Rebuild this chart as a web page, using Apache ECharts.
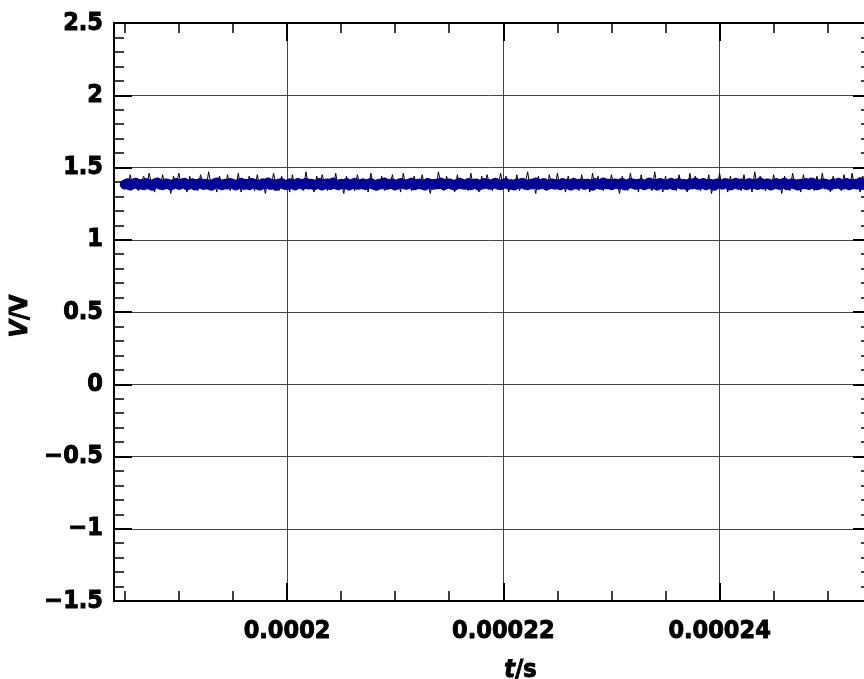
<!DOCTYPE html>
<html>
<head>
<meta charset="utf-8">
<script src="https://cdn.jsdelivr.net/npm/echarts@6/dist/echarts.min.js"></script>
<style>
html,body{margin:0;padding:0;background:#fff;}
#chart{width:864px;height:679px;}
</style>
</head>
<body>
<div id="chart"></div>
<script>
// sample times in microseconds
const timeUs = [
185,185.25,185.5,185.75,186,186.25,186.5,186.75,187,187.25,187.5,187.75,188,188.25,188.5,188.75,189,189.25,189.5,189.75,
190,190.25,190.5,190.75,191,191.25,191.5,191.75,192,192.25,192.5,192.75,193,193.25,193.5,193.75,194,194.25,194.5,194.75,
195,195.25,195.5,195.75,196,196.25,196.5,196.75,197,197.25,197.5,197.75,198,198.25,198.5,198.75,199,199.25,199.5,199.75,
200,200.25,200.5,200.75,201,201.25,201.5,201.75,202,202.25,202.5,202.75,203,203.25,203.5,203.75,204,204.25,204.5,204.75,
205,205.25,205.5,205.75,206,206.25,206.5,206.75,207,207.25,207.5,207.75,208,208.25,208.5,208.75,209,209.25,209.5,209.75,
210,210.25,210.5,210.75,211,211.25,211.5,211.75,212,212.25,212.5,212.75,213,213.25,213.5,213.75,214,214.25,214.5,214.75,
215,215.25,215.5,215.75,216,216.25,216.5,216.75,217,217.25,217.5,217.75,218,218.25,218.5,218.75,219,219.25,219.5,219.75,
220,220.25,220.5,220.75,221,221.25,221.5,221.75,222,222.25,222.5,222.75,223,223.25,223.5,223.75,224,224.25,224.5,224.75,
225,225.25,225.5,225.75,226,226.25,226.5,226.75,227,227.25,227.5,227.75,228,228.25,228.5,228.75,229,229.25,229.5,229.75,
230,230.25,230.5,230.75,231,231.25,231.5,231.75,232,232.25,232.5,232.75,233,233.25,233.5,233.75,234,234.25,234.5,234.75,
235,235.25,235.5,235.75,236,236.25,236.5,236.75,237,237.25,237.5,237.75,238,238.25,238.5,238.75,239,239.25,239.5,239.75,
240,240.25,240.5,240.75,241,241.25,241.5,241.75,242,242.25,242.5,242.75,243,243.25,243.5,243.75,244,244.25,244.5,244.75,
245,245.25,245.5,245.75,246,246.25,246.5,246.75,247,247.25,247.5,247.75,248,248.25,248.5,248.75,249,249.25,249.5,249.75,
250,250.25,250.5,250.75,251,251.25,251.5,251.75,252,252.25,252.5,252.75,253,253.25,253.5,253.75,254,254.25,254.5,254.75
];
// raw voltage (black, noisy spikes)
const rawV = [
1.41,1.35,1.45,1.36,1.42,1.34,1.40,1.44,1.35,1.46,1.38,1.33,1.42,1.36,1.45,1.35,1.41,1.32,1.44,1.38,
1.46,1.35,1.40,1.33,1.44,1.37,1.42,1.34,1.45,1.39,1.35,1.47,1.37,1.41,1.33,1.44,1.38,1.35,1.45,1.34,
1.42,1.36,1.46,1.33,1.40,1.35,1.44,1.38,1.34,1.45,1.36,1.41,1.32,1.42,1.35,1.46,1.38,1.34,1.44,1.36,
1.40,1.33,1.45,1.35,1.42,1.38,1.34,1.47,1.36,1.41,1.33,1.44,1.35,1.45,1.38,1.34,1.42,1.36,1.46,1.35,
1.41,1.32,1.44,1.36,1.40,1.34,1.45,1.38,1.35,1.42,1.33,1.46,1.36,1.41,1.35,1.44,1.34,1.40,1.38,1.45,
1.35,1.42,1.33,1.46,1.36,1.41,1.34,1.44,1.38,1.35,1.45,1.36,1.40,1.32,1.42,1.35,1.47,1.38,1.34,1.44,
1.36,1.41,1.33,1.45,1.35,1.42,1.38,1.34,1.46,1.36,1.40,1.33,1.44,1.35,1.45,1.38,1.34,1.41,1.36,1.46,
1.35,1.44,1.33,1.42,1.36,1.45,1.34,1.40,1.38,1.47,1.35,1.41,1.32,1.44,1.36,1.42,1.34,1.45,1.38,1.35,
1.46,1.36,1.40,1.33,1.44,1.35,1.42,1.38,1.34,1.45,1.36,1.41,1.33,1.46,1.35,1.44,1.38,1.34,1.42,1.36,
1.45,1.35,1.40,1.32,1.44,1.38,1.34,1.46,1.36,1.42,1.33,1.45,1.35,1.41,1.38,1.34,1.47,1.36,1.40,1.33,
1.44,1.35,1.42,1.38,1.34,1.45,1.36,1.41,1.33,1.46,1.35,1.44,1.38,1.34,1.42,1.36,1.45,1.32,1.40,1.35,
1.46,1.36,1.41,1.33,1.44,1.35,1.42,1.38,1.34,1.45,1.36,1.40,1.33,1.47,1.35,1.44,1.38,1.34,1.42,1.36,
1.45,1.35,1.41,1.32,1.44,1.38,1.34,1.46,1.36,1.42,1.33,1.45,1.35,1.40,1.38,1.34,1.44,1.36,1.46,1.35,
1.41,1.33,1.44,1.36,1.42,1.34,1.45,1.38,1.35,1.46,1.36,1.40,1.33,1.44,1.35,1.42,1.38,1.34,1.45,1.36
];
// smoothed voltage (blue band)
const smoothV = [
1.382,1.390,1.376,1.388,1.394,1.380,1.386,1.378,1.392,1.384,1.374,1.388,1.396,1.382,1.378,1.390,1.386,1.376,1.384,1.392,
1.380,1.388,1.394,1.378,1.384,1.390,1.376,1.386,1.392,1.380,1.388,1.382,1.374,1.390,1.396,1.384,1.378,1.388,1.382,1.392,
1.386,1.376,1.384,1.394,1.380,1.388,1.378,1.392,1.386,1.382,1.376,1.390,1.384,1.396,1.380,1.386,1.374,1.388,1.392,1.382,
1.378,1.390,1.384,1.376,1.392,1.386,1.380,1.394,1.382,1.388,1.378,1.384,1.392,1.376,1.386,1.390,1.380,1.396,1.384,1.378,
1.388,1.382,1.392,1.376,1.386,1.394,1.380,1.384,1.390,1.378,1.386,1.392,1.382,1.374,1.388,1.384,1.396,1.380,1.386,1.390,
1.376,1.384,1.392,1.386,1.380,1.388,1.394,1.378,1.384,1.390,1.382,1.376,1.392,1.386,1.380,1.388,1.384,1.396,1.378,1.386,
1.390,1.382,1.376,1.388,1.394,1.384,1.380,1.392,1.378,1.386,1.390,1.374,1.384,1.392,1.388,1.380,1.386,1.394,1.382,1.378,
1.388,1.392,1.380,1.384,1.376,1.390,1.386,1.394,1.382,1.378,1.388,1.384,1.396,1.380,1.386,1.392,1.376,1.384,1.390,1.382,
1.386,1.378,1.392,1.384,1.388,1.376,1.394,1.382,1.386,1.390,1.380,1.388,1.384,1.374,1.392,1.386,1.380,1.396,1.384,1.388,
1.378,1.390,1.386,1.382,1.394,1.376,1.384,1.392,1.388,1.380,1.386,1.390,1.378,1.384,1.396,1.382,1.388,1.376,1.392,1.386,
1.380,1.384,1.394,1.378,1.388,1.392,1.382,1.386,1.376,1.390,1.384,1.396,1.380,1.386,1.392,1.378,1.388,1.384,1.374,1.390,
1.386,1.382,1.392,1.388,1.376,1.384,1.394,1.380,1.390,1.386,1.378,1.392,1.384,1.388,1.380,1.396,1.382,1.386,1.390,1.376,
1.384,1.392,1.380,1.388,1.394,1.378,1.386,1.390,1.382,1.376,1.388,1.384,1.392,1.380,1.396,1.386,1.378,1.384,1.390,1.388,
1.382,1.376,1.390,1.386,1.394,1.380,1.384,1.392,1.378,1.388,1.386,1.382,1.396,1.380,1.390,1.384,1.376,1.388,1.392,1.386
];
const xTickValues = [0.0002, 0.00022, 0.00024];
const xTickLabels = ['0.0002', '0.00022', '0.00024'];
const yTickValues = [2.5, 2, 1.5, 1, 0.5, 0, -0.5, -1, -1.5];
const yTickLabels = ['2.5', '2', '1.5', '1', '0.5', '0', '\u22120.5', '\u22121', '\u22121.5'];

const rawData = timeUs.map((t, i) => [t * 1e-6, rawV[i]]);
const smoothData = timeUs.map((t, i) => [t * 1e-6, smoothV[i]]);

const FONT = '"DejaVu Sans Condensed", "DejaVu Sans", sans-serif';
const FS = 25;
const heavy = { textBorderColor: '#000', textBorderWidth: 0.9 };
function xFmt(v) {
  for (let i = 0; i < xTickValues.length; i++) {
    if (Math.abs(v - xTickValues[i]) < 1e-9) return xTickLabels[i];
  }
  return '';
}
function yFmt(v) {
  for (let i = 0; i < yTickValues.length; i++) {
    if (Math.abs(v - yTickValues[i]) < 1e-9) return yTickLabels[i];
  }
  return '';
}
function common(split) {
  return {
    axisTick: { show: true, inside: true, length: 18, lineStyle: { color: '#000', width: 2 } },
    minorTick: { show: true, splitNumber: split, length: 10, lineStyle: { color: '#000', width: 1.5 } },
    axisLine: { show: true, onZero: false, lineStyle: { color: '#000', width: 2 } }
  };
}
const richName = {
  i: Object.assign({ fontFamily: FONT, fontSize: FS, fontWeight: 'bold', fontStyle: 'italic', color: '#000' }, heavy),
  n: Object.assign({ fontFamily: FONT, fontSize: FS, fontWeight: 'bold', color: '#000' }, heavy)
};

const chart = echarts.init(document.getElementById('chart'));
chart.setOption({
  animation: false,
  backgroundColor: '#fff',
  grid: { left: 114, width: 757, top: 23, height: 578, containLabel: false, outerBoundsMode: 'none' },
  xAxis: [
    Object.assign({
      type: 'value', position: 'bottom', min: 0.000184, max: 0.000254,
      minInterval: 0.00002, maxInterval: 0.00002,
      name: '{i|t}{n|/s}', nameLocation: 'middle', nameGap: 57,
      nameTextStyle: { padding: [0, 0, 0, 56], rich: richName },
      axisLabel: Object.assign({ show: true, showMinLabel: false, showMaxLabel: false, formatter: xFmt,
        fontFamily: FONT, fontSize: FS, fontWeight: 'bold', color: '#000', margin: 18 }, heavy),
      splitLine: { show: true, lineStyle: { color: '#444', width: 1 } }
    }, common(4)),
    Object.assign({
      type: 'value', position: 'top', min: 0.000184, max: 0.000254,
      minInterval: 0.00002, maxInterval: 0.00002,
      axisLabel: { show: false },
      splitLine: { show: false }
    }, common(4))
  ],
  yAxis: [
    Object.assign({
      type: 'value', position: 'left', min: -1.5, max: 2.5, interval: 0.5,
      name: '{i|V}{n|/V}', nameLocation: 'middle', nameGap: 80, nameRotate: 90,
      nameTextStyle: { padding: [0, 8, 0, 0], rich: richName },
      axisLabel: Object.assign({ show: true, formatter: yFmt,
        fontFamily: FONT, fontSize: FS, fontWeight: 'bold', color: '#000', margin: 11 }, heavy),
      splitLine: { show: true, lineStyle: { color: '#444', width: 1 } }
    }, common(5)),
    Object.assign({
      type: 'value', position: 'right', min: -1.5, max: 2.5, interval: 0.5,
      axisLabel: { show: false },
      splitLine: { show: false }
    }, common(5))
  ],
  series: [
    {
      type: 'line', xAxisIndex: 0, yAxisIndex: 0, data: rawData,
      showSymbol: false, symbol: 'none',
      lineStyle: { color: '#000', width: 1 }, z: 2
    },
    {
      type: 'line', xAxisIndex: 0, yAxisIndex: 0, data: smoothData,
      showSymbol: false, symbol: 'none',
      lineStyle: { color: '#000099', width: 10, cap: 'round', join: 'round' }, z: 3
    }
  ]
});
</script>
</body>
</html>
